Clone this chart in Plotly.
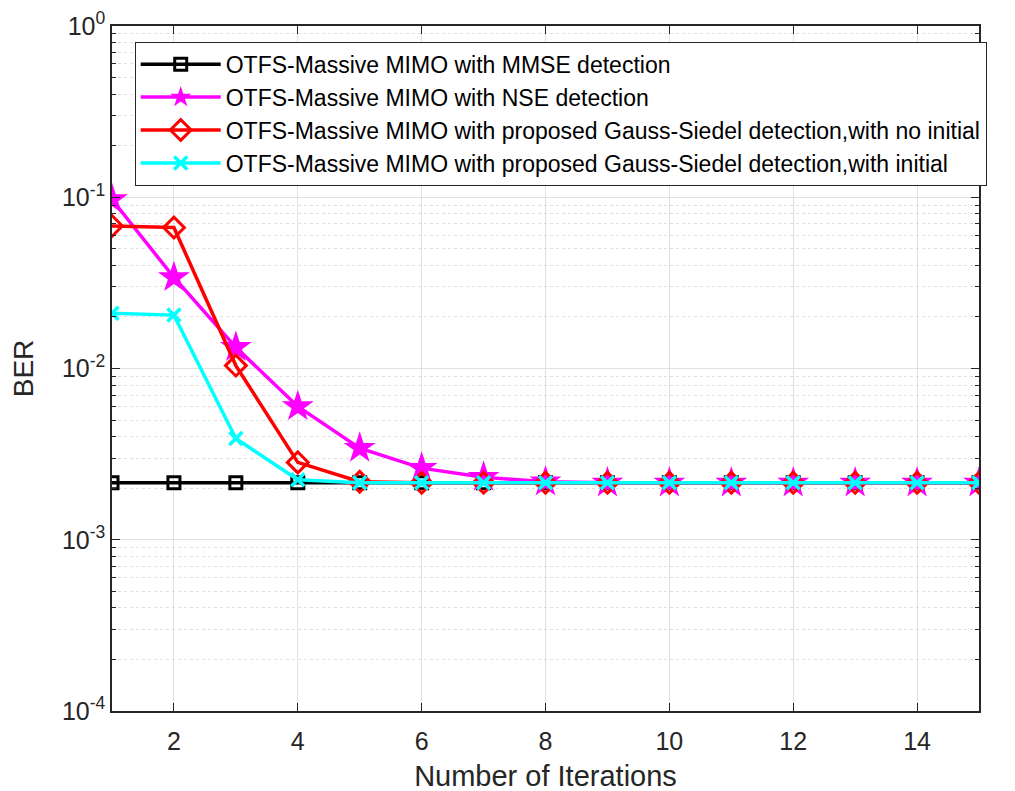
import plotly.graph_objects as go

iterations = list(range(1, 16))
ber_mmse = [0.00215, 0.00215, 0.00215, 0.00215, 0.00215, 0.00215, 0.00215, 0.00215,
            0.00215, 0.00215, 0.00215, 0.00215, 0.00215, 0.00215, 0.00215]
ber_nse = [0.097, 0.034, 0.0133, 0.0060, 0.00343, 0.00262, 0.00232, 0.00218,
           0.00215, 0.00215, 0.00215, 0.00215, 0.00215, 0.00215, 0.00215]
ber_gs_noinit = [0.068, 0.0665, 0.0104, 0.00283, 0.00218, 0.00215, 0.00215, 0.00215,
                 0.00215, 0.00215, 0.00215, 0.00215, 0.00215, 0.00215, 0.00215]
ber_gs_init = [0.021, 0.0205, 0.0039, 0.00224, 0.00215, 0.00215, 0.00215, 0.00215,
               0.00215, 0.00215, 0.00215, 0.00215, 0.00215, 0.00215, 0.00215]

names = [
    "OTFS-Massive MIMO with MMSE detection",
    "OTFS-Massive MIMO with NSE detection",
    "OTFS-Massive MIMO with proposed Gauss-Siedel detection,with no initial",
    "OTFS-Massive MIMO with proposed Gauss-Siedel detection,with initial",
]
y_tickvals = [1e-4, 1e-3, 1e-2, 1e-1, 1]
y_ticktext = ["10<sup>-4</sup>", "10<sup>-3</sup>", "10<sup>-2</sup>", "10<sup>-1</sup>", "10<sup>0</sup>"]
x_tickvals = [2, 4, 6, 8, 10, 12, 14]

axis_color = "#262626"
font_family = "Liberation Sans, Arial, sans-serif"

fig = go.Figure()
fig.add_trace(go.Scatter(
    x=iterations, y=ber_mmse, name=names[0], mode="lines+markers",
    line=dict(color="#000000", width=3.5),
    marker=dict(symbol="square-open", size=12, color="#000000", line=dict(width=3, color="#000000")),
))
fig.add_trace(go.Scatter(
    x=iterations, y=ber_nse, name=names[1], mode="lines+markers",
    line=dict(color="#ff00ff", width=3.5),
    marker=dict(symbol="star", size=24, color="#ff00ff", line=dict(width=0)),
))
fig.add_trace(go.Scatter(
    x=iterations, y=ber_gs_noinit, name=names[2], mode="lines+markers",
    line=dict(color="#ff0000", width=3.5),
    marker=dict(symbol="diamond-open", size=16, color="#ff0000", line=dict(width=3, color="#ff0000")),
))
fig.add_trace(go.Scatter(
    x=iterations, y=ber_gs_init, name=names[3], mode="lines+markers",
    line=dict(color="#00ffff", width=3.5),
    marker=dict(symbol="x-thin", size=13, color="#00ffff", line=dict(width=3.5, color="#00ffff")),
))

fig.update_layout(
    width=1015, height=791,
    margin=dict(l=104, r=44, t=18, b=88, autoexpand=False),
    paper_bgcolor="white", plot_bgcolor="white",
    font=dict(family=font_family, color=axis_color, size=25),
    showlegend=True,
    legend=dict(
        x=0.0262, y=0.977, xanchor="left", yanchor="top",
        bgcolor="white", bordercolor=axis_color, borderwidth=1,
        font=dict(size=23, color="#000000", family=font_family),
        itemwidth=80, tracegroupgap=0,
    ),
)
fig.update_xaxes(
    title=dict(text="Number of Iterations", font=dict(size=29), standoff=12),
    range=[1, 15], tickvals=x_tickvals, automargin=False,
    showline=True, linecolor=axis_color, linewidth=1.5, mirror="allticks",
    ticks="inside", ticklen=8, tickcolor=axis_color, ticklabelstandoff=7,
    showgrid=True, gridcolor="#e0e0e0", gridwidth=1,
    zeroline=False, tickfont=dict(size=25),
)
fig.update_yaxes(
    type="log", title=dict(text="BER", font=dict(size=28), standoff=20),
    range=[-4, 0], tickvals=y_tickvals, ticktext=y_ticktext, automargin=False,
    showline=True, linecolor=axis_color, linewidth=1.5, mirror="allticks",
    ticks="inside", ticklen=8, tickcolor=axis_color,
    showgrid=True, gridcolor="#e0e0e0", gridwidth=1,
    minor=dict(dtick="D1", ticks="inside", ticklen=4, tickcolor=axis_color,
               showgrid=True, gridcolor="#dedede", griddash="dot", gridwidth=1),
    zeroline=False, tickfont=dict(size=25),
)

fig.write_html("out.html")
